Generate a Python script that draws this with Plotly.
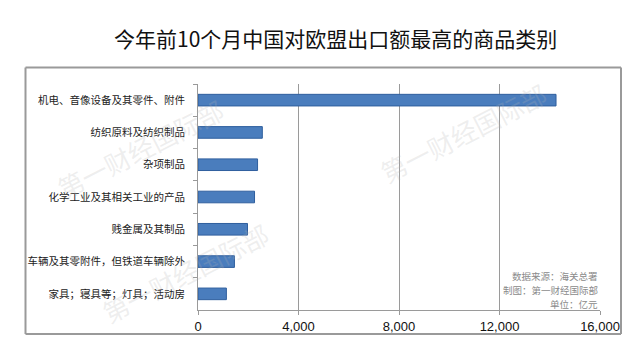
import plotly.graph_objects as go

categories = [
    "机电、音像设备及其零件、附件",
    "纺织原料及纺织制品",
    "杂项制品",
    "化学工业及其相关工业的产品",
    "贱金属及其制品",
    "车辆及其零附件，但铁道车辆除外",
    "家具；寝具等；灯具；活动房",
]
values = [14250, 2560, 2370, 2250, 1970, 1450, 1130]
x_ticks = [0, 4000, 8000, 12000, 16000]
x_tick_labels = ["0", "4,000", "8,000", "12,000", "16,000"]
title_text = "今年前10个月中国对欧盟出口额最高的商品类别"
notes = ["数据来源：海关总署", "制图：第一财经国际部", "单位：亿元"]
watermark = "第一财经国际部"

W, H = 640, 349
L, R, T, B = 198, 40, 84, 39
PW, PH = W - L - R, H - T - B


def px(x):
    return (x - L) / PW


def py(y):
    return 1 - (y - T) / PH


fig = go.Figure()
fig.add_trace(go.Bar(
    x=values, y=categories, orientation="h",
    marker=dict(color="#4a7dbd", line=dict(color="#2f5f9e", width=1)),
    width=0.36,
))

fig.update_layout(
    width=W, height=H,
    margin=dict(l=L, r=R, t=T, b=B),
    paper_bgcolor="white", plot_bgcolor="white",
    showlegend=False,
    font=dict(family="Noto Sans CJK SC", color="#222222"),
    xaxis=dict(
        range=[0, 16000], tickvals=x_ticks, ticktext=x_tick_labels,
        showgrid=True, gridcolor="#9a9a9a", gridwidth=1,
        zeroline=False, showline=True, linecolor="#9a9a9a",
        ticks="outside", ticklen=4, tickcolor="#9a9a9a",
        tickfont=dict(size=13, family="Liberation Sans", color="#111111"),
    ),
    yaxis=dict(
        autorange="reversed", showline=True, linecolor="#9a9a9a",
        ticks="outside", ticklen=4, tickcolor="#9a9a9a", tickson="boundaries",
        tickfont=dict(size=10.5, family="Noto Sans CJK SC", color="#222222"),
        showgrid=False, ticklabelstandoff=10,
    ),
)

# title
fig.add_annotation(text=title_text, xref="paper", yref="paper",
                   x=px(335), y=py(38), xanchor="center", yanchor="middle",
                   showarrow=False,
                   font=dict(size=21, family="Noto Sans CJK SC", color="#111111"))

# notes
for i, n in enumerate(notes):
    fig.add_annotation(text=n, xref="paper", yref="paper",
                       x=px(600), y=py(276 + i * 14), xanchor="right",
                       yanchor="middle", showarrow=False,
                       font=dict(size=9.5, family="Noto Sans CJK SC", color="#8a8a8a"))

# watermarks
for cx, cy in [(140, 148), (185, 272), (463, 132)]:
    fig.add_annotation(text=watermark, xref="paper", yref="paper",
                       x=px(cx), y=py(cy), xanchor="center", yanchor="middle",
                       showarrow=False, textangle=-27,
                       font=dict(size=26, family="Noto Sans CJK SC",
                                 color="rgba(180,180,180,0.22)"))

# outer frame (four separate lines)
frame_x0, frame_x1, frame_y0, frame_y1 = px(25.5), px(621), py(334), py(67.5)
for xa, ya, xb, yb in [
    (frame_x0, frame_y1, frame_x1, frame_y1),
    (frame_x0, frame_y0, frame_x1, frame_y0),
    (frame_x0, frame_y0, frame_x0, frame_y1),
    (frame_x1, frame_y0, frame_x1, frame_y1),
]:
    fig.add_shape(type="line", xref="paper", yref="paper",
                  x0=xa, y0=ya, x1=xb, y1=yb,
                  line=dict(color="#9a9a9a", width=2), layer="above")

fig.write_html("out.html")
